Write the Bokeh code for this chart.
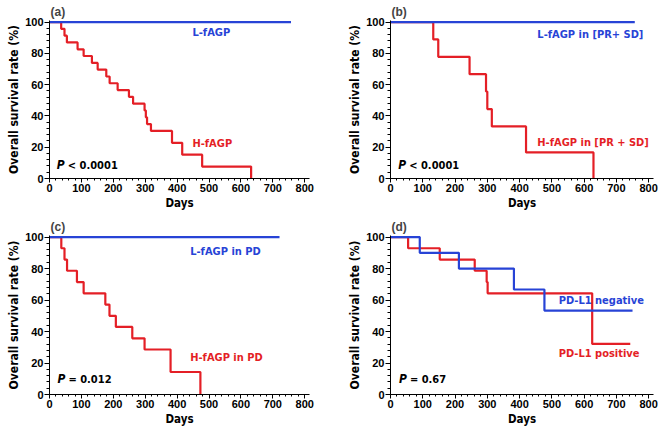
from bokeh.plotting import figure
from bokeh.layouts import column, row
from bokeh.models import Range1d, SingleIntervalTicker, Label
from bokeh.embed import file_html
from bokeh.resources import INLINE

# ---------------- data ----------------
# (a) all patients
a_high_days = [0, 36.6, 47, 54.5, 88, 107, 133, 151, 178, 188.5, 213.6, 249, 262, 298, 302, 305.8, 318, 384, 416, 478.5, 632]
a_high_surv = [100, 95.65, 91.3, 87.0, 82.6, 78.3, 73.9, 69.6, 65.2, 60.9, 56.5, 52.2, 47.8, 43.5, 39.1, 34.8, 30.4, 22.8, 15.2, 7.6, 0]
a_low_days = [0, 757]
a_low_surv = [100, 100]
# (b) PR + SD
b_high_days = [0, 132.5, 148, 245, 296, 300, 314, 420, 629]
b_high_surv = [100, 88.9, 77.8, 66.7, 55.6, 44.4, 33.3, 16.7, 0]
b_low_days = [0, 757]
b_low_surv = [100, 100]
# (c) PD
c_high_days = [0, 37, 47, 55, 86, 107, 175, 188, 208, 259.5, 298, 379.5, 473]
c_high_surv = [100, 92.9, 85.7, 78.6, 71.4, 64.3, 57.1, 50.0, 42.9, 35.7, 28.6, 14.3, 0]
c_low_days = [0, 721]
c_low_surv = [100, 100]
# (d) PD-L1
d_pos_days = [0, 54.6, 152.6, 261, 298, 301, 625, 743]
d_pos_surv = [100, 92.9, 85.7, 78.6, 71.4, 64.3, 32.1, 32.1]
d_neg_days = [0, 90.7, 212, 382.5, 477, 750]
d_neg_surv = [100, 90.0, 80.0, 66.7, 53.3, 53.3]

x_ticks_interval = 100
y_ticks_interval = 20

BLUE = "#2743d6"
RED = "#e41f26"
NARROW = "DejaVu Sans Condensed"
BOLD = "Liberation Sans"


def make_panel(title, width, height, bl, br, bt, bb):
    p = figure(width=width, height=height, output_backend="svg", toolbar_location=None,
               x_range=Range1d(0, 815), y_range=Range1d(0, 101),
               min_border_left=bl, min_border_right=br, min_border_top=bt, min_border_bottom=bb)
    p.title.text = title
    p.title.text_font = BOLD
    p.title.text_font_size = "12px"
    p.title.text_font_style = "bold"
    p.title.align = "left"
    p.title.offset = 1
    p.title.standoff = 4
    p.outline_line_color = None
    p.xgrid.visible = False
    p.ygrid.visible = False
    p.xaxis.ticker = SingleIntervalTicker(interval=x_ticks_interval, num_minor_ticks=5)
    p.yaxis.ticker = SingleIntervalTicker(interval=y_ticks_interval, num_minor_ticks=5)
    p.xaxis.axis_label = "Days"
    p.yaxis.axis_label = "Overall survival rate (%)"
    for ax in (p.xaxis[0], p.yaxis[0]):
        ax.axis_line_color = "black"
        ax.axis_line_width = 1
        ax.major_tick_line_color = "black"
        ax.minor_tick_line_color = "black"
        ax.major_tick_in = 0
        ax.minor_tick_in = 0
        ax.major_tick_out = 4
        ax.minor_tick_out = 2
        ax.major_label_text_font = BOLD
        ax.major_label_text_font_style = "bold"
        ax.major_label_text_font_size = "11px"
        ax.major_label_text_color = "black"
        ax.major_label_standoff = 1
        ax.axis_label_text_font = NARROW
        ax.axis_label_text_font_style = "bold"
        ax.axis_label_text_color = "black"
        ax.axis_label_standoff = 1
    p.xaxis.axis_label_text_font_size = "11.5px"
    p.yaxis.axis_label_text_font_size = "12px"
    p.yaxis.major_tick_out = 5
    p.yaxis.minor_tick_out = 3
    return p


def add_text(p, x, y, text, color, size="11px"):
    p.add_layout(Label(x=x, y=y, text=text, text_color=color, text_font=NARROW,
                       text_font_style="bold", text_font_size=size, text_baseline="middle"))


def add_p(p, x, y, rest):
    p.add_layout(Label(x=x, y=y, text="P", text_color="black", text_font=NARROW,
                       text_font_style="bold italic", text_font_size="12px", text_baseline="middle"))
    p.add_layout(Label(x=x, y=y, x_offset=11, text=rest, text_color="black", text_font=NARROW,
                       text_font_style="bold", text_font_size="11px", text_baseline="middle"))


pa = make_panel("(a)", 329, 215, 49, 20, 18, 37)
pb = make_panel("(b)", 329, 215, 61, 5, 18, 37)
pc = make_panel("(c)", 329, 216, 49, 20, 18, 37)
pd_ = make_panel("(d)", 329, 216, 61, 5, 18, 37)

pa.step(a_high_days, a_high_surv, mode="after", line_color=RED, line_width=2.2)
pa.line(a_low_days, a_low_surv, line_color=BLUE, line_width=2.2)
add_text(pa, 448, 93.5, "L-fAGP", BLUE)
add_text(pa, 448, 22.6, "H-fAGP", RED)
add_p(pa, 23, 8.6, "< 0.0001")

pb.step(b_high_days, b_high_surv, mode="after", line_color=RED, line_width=2.2)
pb.line(b_low_days, b_low_surv, line_color=BLUE, line_width=2.2)
add_text(pb, 455, 92, "L-fAGP in [PR+ SD]", BLUE)
add_text(pb, 455, 23, "H-fAGP in [PR + SD]", RED)
add_p(pb, 24, 8.4, "< 0.0001")

pc.step(c_high_days, c_high_surv, mode="after", line_color=RED, line_width=2.2)
pc.line(c_low_days, c_low_surv, line_color=BLUE, line_width=2.2)
add_text(pc, 441, 90.7, "L-fAGP in PD", BLUE)
add_text(pc, 441, 23.2, "H-fAGP in PD", RED)
add_p(pc, 25, 9.8, "= 0.012")

pd_.step(d_pos_days, d_pos_surv, mode="after", line_color=RED, line_width=2.2)
pd_.step(d_neg_days, d_neg_surv, mode="after", line_color=BLUE, line_width=2.2)
add_text(pd_, 521, 60, "PD-L1 negative", BLUE)
add_text(pd_, 521, 26, "PD-L1 positive", RED)
add_p(pd_, 26, 9.8, "= 0.67")

layout = column(row(pa, pb), row(pc, pd_))
open("out.html", "w").write(file_html(layout, INLINE))
